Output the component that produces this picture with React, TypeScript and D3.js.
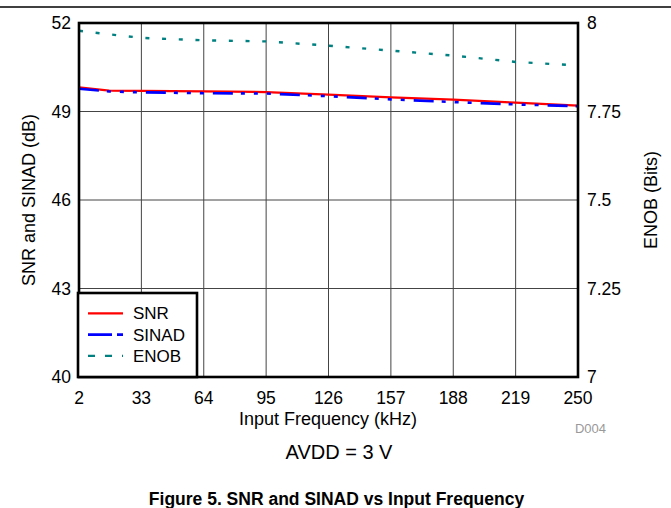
import React from "react";
import * as d3 from "d3";

const freqs = [2, 17, 33, 64, 95, 126, 157, 188, 219, 250];
const snr = [49.82, 49.71, 49.7, 49.68, 49.66, 49.57, 49.48, 49.4, 49.3, 49.2];
const sinad = [49.77, 49.68, 49.65, 49.62, 49.61, 49.52, 49.41, 49.32, 49.24, 49.18];
const enob = [7.978, 7.968, 7.958, 7.951, 7.948, 7.936, 7.922, 7.908, 7.89, 7.88];

const xTicks = [2, 33, 64, 95, 126, 157, 188, 219, 250];
const leftTicks = [40, 43, 46, 49, 52];
const rightTicks = [7, 7.25, 7.5, 7.75, 8];
const legendItems = ["SNR", "SINAD", "ENOB"];

const W = 671;
const H = 508;
const FONT = "'Liberation Sans', Arial, sans-serif";

export default function App() {
  const x = d3.scaleLinear().domain([2, 250]).range([79, 578]);
  const yL = d3.scaleLinear().domain([40, 52]).range([377, 23]);
  const yR = d3.scaleLinear().domain([7, 8]).range([377, 23]);

  const lineL = d3
    .line<number>()
    .x((_, i) => x(freqs[i]))
    .y((d) => yL(d));
  const lineR = d3
    .line<number>()
    .x((_, i) => x(freqs[i]))
    .y((d) => yR(d));

  const [x0, x1] = x.range();
  const [yb, yt] = yL.range();

  const styles = [
    { color: "#ff0000", width: 2.2, dash: "none", legendDash: "none" },
    { color: "#0000ff", width: 2.6, dash: "20,8,4,9,4,9,4,9", legendDash: "24,5,5,0" },
    { color: "#008080", width: 2.4, dash: "4,12.7", legendDash: "7,10" },
  ];

  return (
    <div style={{ position: "fixed", left: 0, top: 0 }}>
      <svg width={W} height={H} style={{ display: "block", background: "#fff" }}>
        <line x1={0} x2={W} y1={7} y2={7} stroke="#000" strokeWidth={1.3} />

        {/* grid */}
        {xTicks.slice(1, -1).map((t) => (
          <line key={"gx" + t} x1={x(t)} x2={x(t)} y1={yt} y2={yb} stroke="#444" strokeWidth={1} />
        ))}
        {leftTicks.slice(1, -1).map((t) => (
          <line key={"gy" + t} x1={x0} x2={x1} y1={yL(t)} y2={yL(t)} stroke="#444" strokeWidth={1} />
        ))}

        {/* series */}
        <path d={lineR(enob) || ""} fill="none" stroke={styles[2].color} strokeWidth={styles[2].width} strokeDasharray={styles[2].dash} />
        <path d={lineL(snr) || ""} fill="none" stroke={styles[0].color} strokeWidth={styles[0].width} />
        <path d={lineL(sinad) || ""} fill="none" stroke={styles[1].color} strokeWidth={styles[1].width} strokeDasharray={styles[1].dash} />

        {/* frame */}
        <rect x={x0} y={yt} width={x1 - x0} height={yb - yt} fill="none" stroke="#000" strokeWidth={2.6} />

        {/* legend */}
        <rect x={78} y={293} width={119} height={84} fill="#fff" stroke="#000" strokeWidth={2.6} />
        {legendItems.map((name, i) => {
          const ly = 313.3 + i * 21.3;
          const s = styles[i];
          return (
            <g key={name}>
              <line x1={88} x2={123} y1={ly} y2={ly} stroke={s.color} strokeWidth={s.width} strokeDasharray={s.legendDash} />
              <text x={133} y={ly + 6} fontFamily={FONT} fontSize={17} fill="#000">
                {name}
              </text>
            </g>
          );
        })}

        {/* axes labels */}
        {xTicks.map((t) => (
          <text key={"xt" + t} x={x(t)} y={403.5} textAnchor="middle" fontFamily={FONT} fontSize={17.5}>
            {t}
          </text>
        ))}
        {leftTicks.map((t) => (
          <text key={"yl" + t} x={71} y={yL(t) + 6} textAnchor="end" fontFamily={FONT} fontSize={17.5}>
            {t}
          </text>
        ))}
        {rightTicks.map((t) => (
          <text key={"yr" + t} x={587} y={yR(t) + 6} textAnchor="start" fontFamily={FONT} fontSize={17.5}>
            {t}
          </text>
        ))}

        <text transform={`translate(35,${(yt + yb) / 2}) rotate(-90)`} textAnchor="middle" fontFamily={FONT} fontSize={18}>
          SNR and SINAD (dB)
        </text>
        <text transform={`translate(657,${(yt + yb) / 2}) rotate(-90)`} textAnchor="middle" fontFamily={FONT} fontSize={18}>
          ENOB (Bits)
        </text>
        <text x={328} y={425} textAnchor="middle" fontFamily={FONT} fontSize={18}>
          Input Frequency (kHz)
        </text>
        <text x={606} y={433} textAnchor="end" fontFamily={FONT} fontSize={13} fill="#999">
          D004
        </text>
        <text x={339} y={459} textAnchor="middle" fontFamily={FONT} fontSize={20}>
          AVDD = 3 V
        </text>
        <text x={336.5} y={505} textAnchor="middle" fontFamily={FONT} fontSize={17.5} fontWeight="bold">
          Figure 5. SNR and SINAD vs Input Frequency
        </text>
      </svg>
    </div>
  );
}
